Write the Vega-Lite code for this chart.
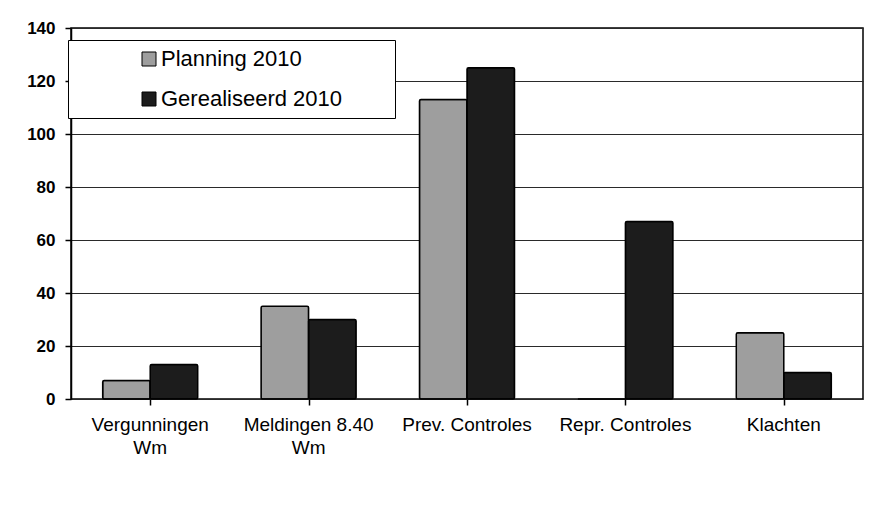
{
  "$schema": "https://vega.github.io/schema/vega-lite/v6.json",
  "autosize": "none",
  "width": 792,
  "height": 371,
  "padding": {"left": 71, "top": 28, "right": 31, "bottom": 111},
  "background": "white",
  "config": {
    "font": "Liberation Sans",
    "view": {"stroke": "black", "strokeWidth": 1.5},
    "axis": {"labelColor": "black", "titleColor": "black"}
  },
  "data": {
    "values": [
      {"categorie": "Vergunningen|Wm", "reeks": "Planning 2010", "waarde": 7},
      {"categorie": "Vergunningen|Wm", "reeks": "Gerealiseerd 2010", "waarde": 13},
      {"categorie": "Meldingen 8.40|Wm", "reeks": "Planning 2010", "waarde": 35},
      {"categorie": "Meldingen 8.40|Wm", "reeks": "Gerealiseerd 2010", "waarde": 30},
      {"categorie": "Prev. Controles", "reeks": "Planning 2010", "waarde": 113},
      {"categorie": "Prev. Controles", "reeks": "Gerealiseerd 2010", "waarde": 125},
      {"categorie": "Repr. Controles", "reeks": "Planning 2010", "waarde": 0},
      {"categorie": "Repr. Controles", "reeks": "Gerealiseerd 2010", "waarde": 67},
      {"categorie": "Klachten", "reeks": "Planning 2010", "waarde": 25},
      {"categorie": "Klachten", "reeks": "Gerealiseerd 2010", "waarde": 10}
    ]
  },
  "layer": [
    {
      "mark": {"type": "bar", "stroke": "black", "strokeWidth": 1.5, "cornerRadius": 1.5},
      "encoding": {
        "x": {
          "field": "categorie", "type": "nominal", "sort": null,
          "scale": {"paddingInner": 0.4, "paddingOuter": 0.2},
          "axis": {
            "title": null, "labelAngle": 0, "ticks": false, "domain": false,
            "labelExpr": "split(datum.label, '|')",
            "labelFontSize": 19, "labelPadding": 16, "labelLineHeight": 23,
            "labelBaseline": "top", "labelLimit": 200
          }
        },
        "xOffset": {"field": "reeks", "type": "nominal", "sort": ["Planning 2010", "Gerealiseerd 2010"]},
        "y": {
          "field": "waarde", "type": "quantitative",
          "scale": {"domain": [0, 140], "nice": false},
          "axis": {
            "title": null, "values": [0, 20, 40, 60, 80, 100, 120, 140],
            "labelFontSize": 17, "labelFontWeight": "bold", "labelPadding": 10,
            "tickSize": 6, "tickColor": "black", "tickWidth": 1.5,
            "domainColor": "black", "domainWidth": 1.5,
            "grid": true, "gridColor": "#2a2a2a", "gridWidth": 1
          }
        },
        "color": {
          "field": "reeks", "type": "nominal",
          "sort": ["Planning 2010", "Gerealiseerd 2010"],
          "scale": {"domain": ["Planning 2010", "Gerealiseerd 2010"], "range": ["#9e9e9e", "#1c1c1c"]},
          "legend": {
            "title": null, "orient": "none", "legendX": -3, "legendY": 12,
            "fillColor": "white", "strokeColor": "black",
            "padding": 8, "rowPadding": 18,
            "symbolType": "square", "symbolSize": 196, "symbolStrokeColor": "black", "symbolStrokeWidth": 1,
            "symbolOffset": 62, "labelOffset": 1,
            "labelFontSize": 22, "labelColor": "black", "labelLimit": 500,
            "labelExpr": "datum.label + '\u00a0\u00a0\u2800\u2800'"
          }
        }
      }
    },
    {
      "mark": {"type": "point", "opacity": 0},
      "encoding": {
        "x": {
          "field": "categorie", "type": "nominal", "sort": null,
          "scale": {"paddingInner": 0, "paddingOuter": 0},
          "axis": {
            "orient": "bottom", "title": null, "labels": false, "domain": false, "grid": false,
            "ticks": true, "tickSize": 6, "tickColor": "black", "tickWidth": 1.5, "bandPosition": 0
          }
        }
      }
    }
  ],
  "resolve": {"scale": {"x": "independent"}, "axis": {"x": "independent"}}
}
